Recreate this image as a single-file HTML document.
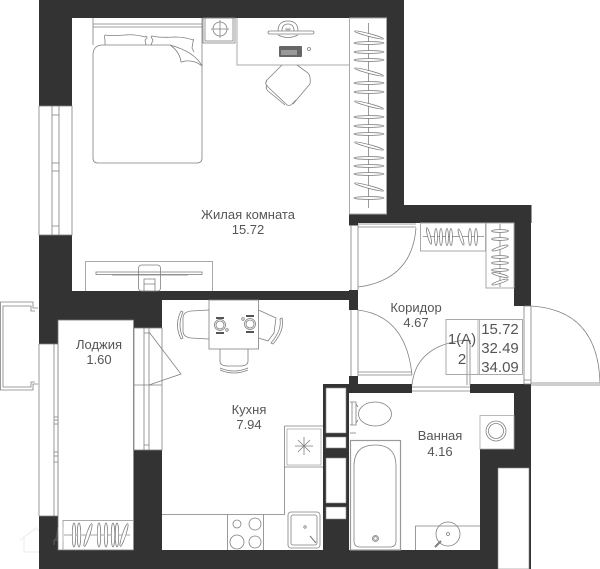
<!DOCTYPE html>
<html><head><meta charset="utf-8">
<style>
html,body{margin:0;padding:0;background:#fff;width:600px;height:569px;overflow:hidden}
svg{display:block}
text{font-family:"Liberation Sans",sans-serif;fill:#555;text-anchor:middle;font-size:13px}
.l{fill:none;stroke:#808080;stroke-width:.8}
.g{fill:none;stroke:#aaa;stroke-width:1}
.h{fill:#fff;stroke:#777;stroke-width:.7}
</style></head><body>
<svg width="600" height="569" viewBox="0 0 600 569" xmlns="http://www.w3.org/2000/svg">
<defs>
<g id="hh"><ellipse cx="0" cy="0" rx="15" ry="1.4" class="h"/></g>
<g id="hv"><ellipse cx="0" cy="0" rx="1.7" ry="12" class="h"/></g>
<g id="hs"><ellipse cx="0" cy="0" rx="1.4" ry="8.5" class="h"/></g>
</defs>
<!-- watermark icon on white -->
<path d="M20 540L36 528L50 540M24 538V552H46V538" fill="none" stroke="#f2f2f2" stroke-width="1.500"/>
<!-- walls -->
<g fill="#333">
<rect x="39" y="0" width="365" height="18"/>
<rect x="39" y="0" width="33" height="106"/>
<rect x="39" y="235" width="33" height="65"/>
<rect x="386.500" y="0" width="17.500" height="223"/>
<rect x="386.500" y="205" width="145" height="18"/>
<rect x="349" y="214" width="37.500" height="9"/>
<rect x="349" y="223" width="9" height="2.500"/>
<rect x="39" y="291" width="319" height="9"/>
<rect x="349" y="290" width="9" height="20"/>
<rect x="39" y="300" width="19" height="44"/>
<rect x="39" y="300" width="123" height="20"/>
<rect x="134" y="300" width="28" height="28"/>
<rect x="514" y="205" width="17" height="101"/>
<rect x="349" y="376" width="9" height="10"/>
<rect x="323" y="384" width="89" height="9"/>
<rect x="470" y="384" width="61" height="9"/>
<rect x="514" y="384" width="17" height="185"/>
<rect x="480" y="449" width="51" height="120"/>
<rect x="323" y="384" width="26" height="185"/>
<rect x="134" y="450" width="28" height="119"/>
<rect x="39" y="516" width="19" height="53"/>
<rect x="39" y="550" width="492" height="19"/>
</g>
<!-- white wall cutouts -->
<g fill="#fff" stroke="#888" stroke-width=".6">
<rect x="326" y="388" width="20" height="45"/>
<rect x="326" y="437" width="20" height="11"/>
<rect x="326" y="458" width="20" height="45"/>
<rect x="326" y="507" width="20" height="12"/>
</g>
<rect x="498" y="468" width="31" height="101" fill="#fff" stroke="#888" stroke-width=".6"/>
<!-- loggia white -->
<rect x="58" y="320" width="75.500" height="230" fill="#fff" stroke="#777" stroke-width=".8"/>
<!-- bedroom window -->
<g class="l">
<rect x="39" y="106" width="33" height="129"/>
<path d="M52 106V235M59 106V235M52 115H59M52 163H59M52 171H59M52 226H59"/>
<!-- loggia glazing -->
<path d="M39 344V516M39 344H58M39 516H58M54 344V516M54 417H58M54 420H58M54 424H58M54 452H58M54 456H58M54 462H58"/>
<!-- balcony -->
<path d="M38 308H33V302H0.500V390H33V384H38"/>
<path d="M35 311H31V306H3V387H31V382H35"/>
<!-- kitchen window -->
<rect x="134" y="328" width="28" height="122"/>
<path d="M144 328V450M149 328V450M134 385H162M144 333H149M144 445H149"/>
<path d="M149 332L181 374L149 385"/>
</g>
<!-- bed -->
<g class="l">
<path d="M93 18V45M202 18V66M93 24H202M93 27H202"/>
<path d="M93 55Q93 45 103 45H170M93 55V158Q93 163 98 163H197Q202 163 202 158V65"/>
<path d="M105 45L105 40Q104 36 105 35Q110 36 125 35Q135 34 145 37Q147 35 147 38L145 40L146 45"/>
<path d="M151 45L153 40Q150 36 152 36Q160 38 175 37Q185 37 193 40Q194 38 193 42L192 48L194 52"/>
<path d="M170 45Q195 52 202 66Q195 60 185 61Q182 62 181 62Q180 52 170 45"/>
<!-- night table -->
<rect x="203" y="18" width="32" height="25"/>
<rect x="205" y="18" width="28" height="23"/>
<circle cx="220" cy="29" r="7"/>
<path d="M211 29H229M220 20V38"/>
</g>
<!-- desk -->
<path class="g" d="M237 18V65H349"/>
<g class="l">
<path d="M278 31Q278 21 288 21Q298 21 298 31"/>
<path d="M282 31Q282 24 288 24Q294 24 294 31"/>
<rect x="268" y="31" width="46" height="3" rx="1.500"/>
<path d="M278 35Q288 40 298 35M285 29H291M287 29V31M289 29V31"/>
<circle cx="309" cy="49" r="1.500"/>
</g>
<rect x="279" y="46" width="23" height="11" rx="1" fill="#666"/>
<rect x="281" y="50" width="16" height="5" fill="#999"/>
<!-- desk chair -->
<g class="l">
<path d="M282 65L266 81M297 65L308 73Q311 76 310 84L293 104"/>
<path d="M267 81Q264 83 268 87L286 104Q289 107 292 104L296 100"/>
<path d="M267 85Q265 88 268 91L285 105"/>
</g>
<!-- wardrobe -->
<rect x="349.500" y="18" width="37" height="196" fill="none" stroke="#aaa"/>
<path class="l" d="M368.500 23V208"/>
<g>
<use href="#hh" x="369" y="35" transform="rotate(15 369 35)"/>
<use href="#hh" x="369" y="43"/><use href="#hh" x="369" y="52"/><use href="#hh" x="369" y="60"/>
<use href="#hh" x="369" y="72" transform="rotate(15 369 72)"/>
<use href="#hh" x="369" y="83"/><use href="#hh" x="369" y="92"/>
<use href="#hh" x="369" y="105" transform="rotate(15 369 105)"/>
<use href="#hh" x="369" y="117"/><use href="#hh" x="369" y="126"/><use href="#hh" x="369" y="134"/>
<use href="#hh" x="369" y="146" transform="rotate(15 369 146)"/>
<use href="#hh" x="369" y="158"/><use href="#hh" x="369" y="166"/><use href="#hh" x="369" y="174"/>
<use href="#hh" x="369" y="187" transform="rotate(15 369 187)"/>
<use href="#hh" x="369" y="198"/>
</g>
<!-- TV unit -->
<g class="l">
<path class="g" d="M85.500 291V261.500H212.500V291"/>
<rect x="96" y="272" width="106" height="2.500"/>
<rect x="138.500" y="265" width="22" height="26" rx="3"/>
<path d="M112 275H188M144 291V279H155V291M144 284H155"/>
</g>
<!-- corridor doors -->
<g class="l">
<path d="M351 225V290M358 225V290M351 310V376M358 310V376"/>
<path d="M358 224H416M358 227H416"/>
<path d="M416 228Q412 280 358 287"/>
<path d="M358 310Q406 316 412 375M358 372H412M358 375H412"/>
<path d="M412 385Q416 345 466 340M467 340V385M470 340V385"/>
<path d="M412 387H470M412 391H470"/>
<path d="M524 306V384M531 306V384M524 306H531M524 380H531M524 384H531"/>
<path d="M531 306Q598 310 600 383M531 383H600M531 385H600"/>
</g>
<!-- corridor wardrobes -->
<rect x="420.500" y="223" width="65" height="28" fill="none" stroke="#aaa"/>
<rect x="486" y="223" width="28" height="65" fill="none" stroke="#aaa"/>
<path class="l" d="M423 236.500H484M500 224V287"/>
<use href="#hs" x="429" y="236" transform="rotate(-15 429 236)"/>
<use href="#hs" x="436" y="237"/><use href="#hs" x="441" y="237"/><use href="#hs" x="447" y="237"/><use href="#hs" x="451" y="237"/>
<use href="#hs" x="461" y="237" transform="rotate(-18 461 237)"/>
<use href="#hs" x="470" y="237"/><use href="#hs" x="476" y="237"/>
<g>
<use href="#hs" x="500" y="231" transform="rotate(90 500 231)"/>
<use href="#hs" x="500" y="239" transform="rotate(90 500 239)"/>
<use href="#hs" x="500" y="248" transform="rotate(72 500 248)"/>
<use href="#hs" x="500" y="257" transform="rotate(90 500 257)"/>
<use href="#hs" x="500" y="263" transform="rotate(90 500 263)"/>
<use href="#hs" x="500" y="270" transform="rotate(90 500 270)"/>
<use href="#hs" x="500" y="275" transform="rotate(105 500 275)"/>
<use href="#hs" x="500" y="282" transform="rotate(72 500 282)"/>
</g>
<!-- stamp -->
<rect x="446" y="319.500" width="76.500" height="55" fill="none" stroke="#aaa"/>
<path d="M478 319.500V374.500M479.500 319.500V374.500" stroke="#aaa" stroke-width=".8"/>
<!-- kitchen -->
<g class="l">
<rect x="209" y="300" width="49.500" height="49"/>
<path d="M209 310L191 311Q183 312 183 318V331Q183 337 191 338L209 339"/>
<path d="M181 311Q174 325 181 339L183 338Q177 325 183 312Z"/>
<path d="M258.500 310L276 318L274 333L268 341L258.500 338"/>
<path d="M280 319Q282 330 271 343L273 344Q285 330 282 318Z"/>
<path d="M220 349V361Q220 366 228 366H240Q248 366 248 361V349"/>
<path d="M220 368Q234 374 248 368M220 370Q234 376 248 370"/>
<circle cx="220" cy="325" r="5.500"/><circle cx="220" cy="325" r="4"/>
<circle cx="250" cy="324" r="5.500"/><circle cx="250" cy="324" r="4"/>
<circle cx="227" cy="330" r="1.300"/><circle cx="243" cy="319" r="1.300"/>
</g>
<path d="M216 318H224M216 333H224M246 316H254M246 332H254" stroke="#555" stroke-width="2" fill="none"/>
<g class="l">
<path d="M162 514.500H284.500V426M284.500 426H323M284.500 467H323"/>
<rect x="287" y="429" width="34" height="36" stroke="#aaa"/>
<path d="M304 437V455M295 446H313M298 440L310 452M310 440L298 452"/>
<path d="M227.500 514.500V550M263.500 514.500V550"/>
<circle cx="237" cy="524" r="4"/><circle cx="255" cy="524" r="6"/>
<circle cx="237" cy="542" r="7"/><circle cx="255" cy="542" r="6"/>
<rect x="288" y="512" width="32" height="36" rx="3"/>
<rect x="291" y="515" width="26" height="30" rx="2"/>
<circle cx="305" cy="527" r="1.200"/>
<path d="M310 536L316 543" stroke-width="1.200"/>
</g>
<!-- bathroom -->
<g class="l">
<path d="M350 402H356V425H350M352 402V425M358 407L356 404M358 420L356 423"/>
<ellipse cx="375" cy="414" rx="16.500" ry="12"/>
<path d="M350 433H356"/>
<rect x="350.500" y="440.500" width="50" height="109.500" stroke="#999" stroke-width="1.200"/>
<path d="M354 466Q354 445 375 445Q396 445 396 466V541Q396 547 390 547H360Q354 547 354 541Z"/>
<circle cx="375.500" cy="538.500" r="3"/><circle cx="375.500" cy="538.500" r="1.800"/>
<path d="M415.500 550V526H480"/>
<circle cx="448" cy="534" r="12"/>
<circle cx="448" cy="534" r="1.500"/>
<path d="M435 547L441 541" stroke-width="2"/>
<rect x="480" y="415.500" width="34" height="33.500" stroke="#aaa"/>
<circle cx="496" cy="431" r="10"/><circle cx="496" cy="431" r="7.500"/>
</g>
<!-- loggia wardrobe -->
<path class="g" d="M63 550V520.500H133"/>
<path class="l" d="M64 535H130"/>
<use href="#hv" x="74" y="535"/><use href="#hv" x="79" y="535"/>
<use href="#hv" x="88" y="535" transform="rotate(18 88 535)"/>
<use href="#hv" x="99" y="535"/><use href="#hv" x="106" y="535"/><use href="#hv" x="113" y="535"/><use href="#hv" x="117" y="535"/>
<use href="#hv" x="124" y="535" transform="rotate(18 124 535)"/>
<!-- watermark -->
<text x="92" y="541" style="font-size:19px;fill:#fff;opacity:.14">ДомКлик</text>
<!-- labels -->
<text x="248" y="219">Жилая комната</text>
<text x="248" y="234">15.72</text>
<text x="99" y="349">Лоджия</text>
<text x="99" y="364">1.60</text>
<text x="249" y="414">Кухня</text>
<text x="249" y="429">7.94</text>
<text x="416" y="312">Коридор</text>
<text x="416" y="327">4.67</text>
<text x="440" y="440">Ванная</text>
<text x="440" y="456">4.16</text>
<text x="462" y="344" style="font-size:15px">1(A)</text>
<text x="462" y="364" style="font-size:15px">2</text>
<text x="500" y="334" style="font-size:15px">15.72</text>
<text x="500" y="353" style="font-size:15px">32.49</text>
<text x="500" y="372" style="font-size:15px">34.09</text>
</svg>
</body></html>
